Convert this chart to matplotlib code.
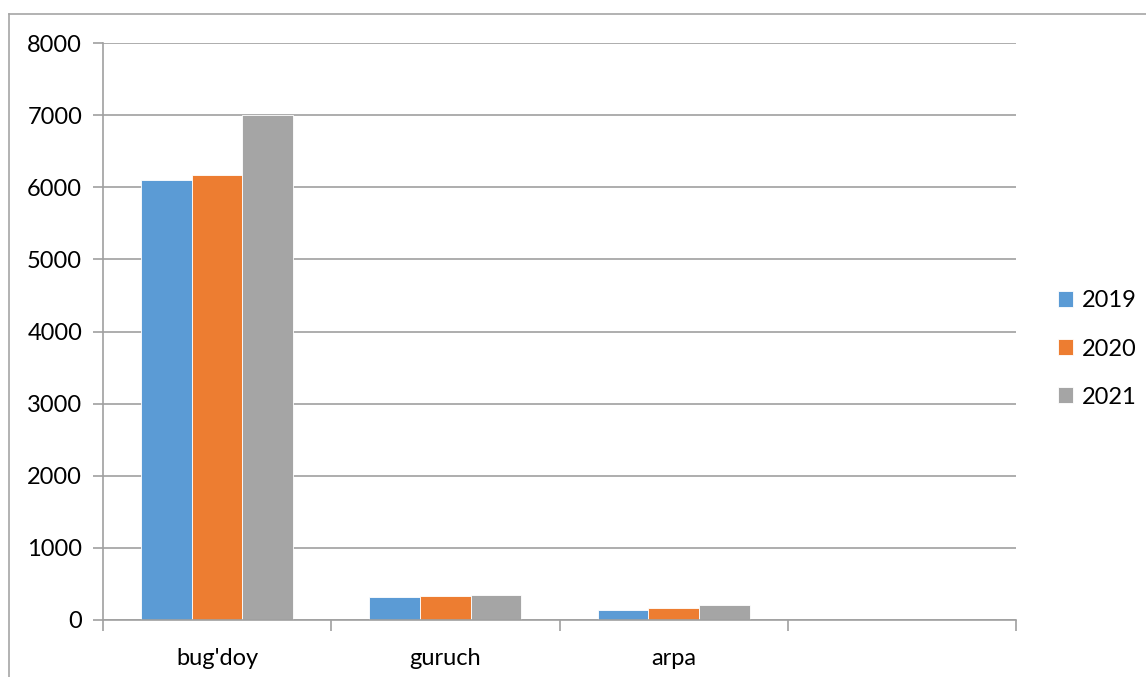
import matplotlib.pyplot as plt
import numpy as np
from matplotlib.lines import Line2D

CATEGORIES = ["bug'doy", "guruch", "arpa", ""]
YEARS = ["2019", "2020", "2021"]
VALUES_2019 = [6100, 320, 140, 0]
VALUES_2020 = [6170, 335, 165, 0]
VALUES_2021 = [7000, 345, 205, 0]
COLORS = ["#5B9BD5", "#ED7D31", "#A5A5A5"]

plt.rcParams["font.family"] = ["Lato", "DejaVu Sans"]

W, H = 1146, 677
fig = plt.figure(figsize=(W / 100, H / 100), dpi=100)

# chart area frame (left and top edges)
frame_x = 8.5 / W
frame_y = 1 - 13.5 / H
fig.add_artist(Line2D([frame_x, frame_x], [0, frame_y], transform=fig.transFigure,
                      color="#A6A6A6", linewidth=1.2))
fig.add_artist(Line2D([frame_x, 1], [frame_y, frame_y], transform=fig.transFigure,
                      color="#A6A6A6", linewidth=1.2))

ax = fig.add_axes([103 / W, 1 - 620 / H, (1016 - 103) / W, (620 - 43) / H])

series = [VALUES_2019, VALUES_2020, VALUES_2021]
n = len(CATEGORIES)
centers = np.arange(n) + 0.5
width = 0.222
for i, (vals, year, color) in enumerate(zip(series, YEARS, COLORS)):
    ax.bar(centers + (i - 1) * width, vals, width, color=color, label=year,
           edgecolor="white", linewidth=0.6)

ax.set_xlim(0, n)
ax.set_ylim(0, 8000)
ax.set_yticks(range(0, 8001, 1000))
ax.set_xticks(range(n + 1))
ax.set_xticklabels([])
ax.set_xticks(centers, labels=CATEGORIES, minor=True)
ax.tick_params(axis="x", which="minor", length=0, labelsize=17, pad=20)
ax.tick_params(axis="x", which="major", length=8, width=1.2, color="#A0A0A0")
ax.tick_params(axis="y", length=7, width=1.2, color="#A0A0A0", labelsize=17, pad=8)

ax.grid(axis="y", color="#A0A0A0", linewidth=1.2)
ax.set_axisbelow(True)
for side in ("top", "right"):
    ax.spines[side].set_visible(False)
for side in ("left", "bottom"):
    ax.spines[side].set_color("#A0A0A0")
    ax.spines[side].set_linewidth(1.2)

ax.legend(loc="center left", bbox_to_anchor=(1058 / W, 1 - 349 / H),
          bbox_transform=fig.transFigure, frameon=False, borderaxespad=0,
          borderpad=0, fontsize=17, handlelength=0.65, handleheight=0.65,
          handletextpad=0.35, labelspacing=1.15)

fig.savefig("out.png", dpi=100)
